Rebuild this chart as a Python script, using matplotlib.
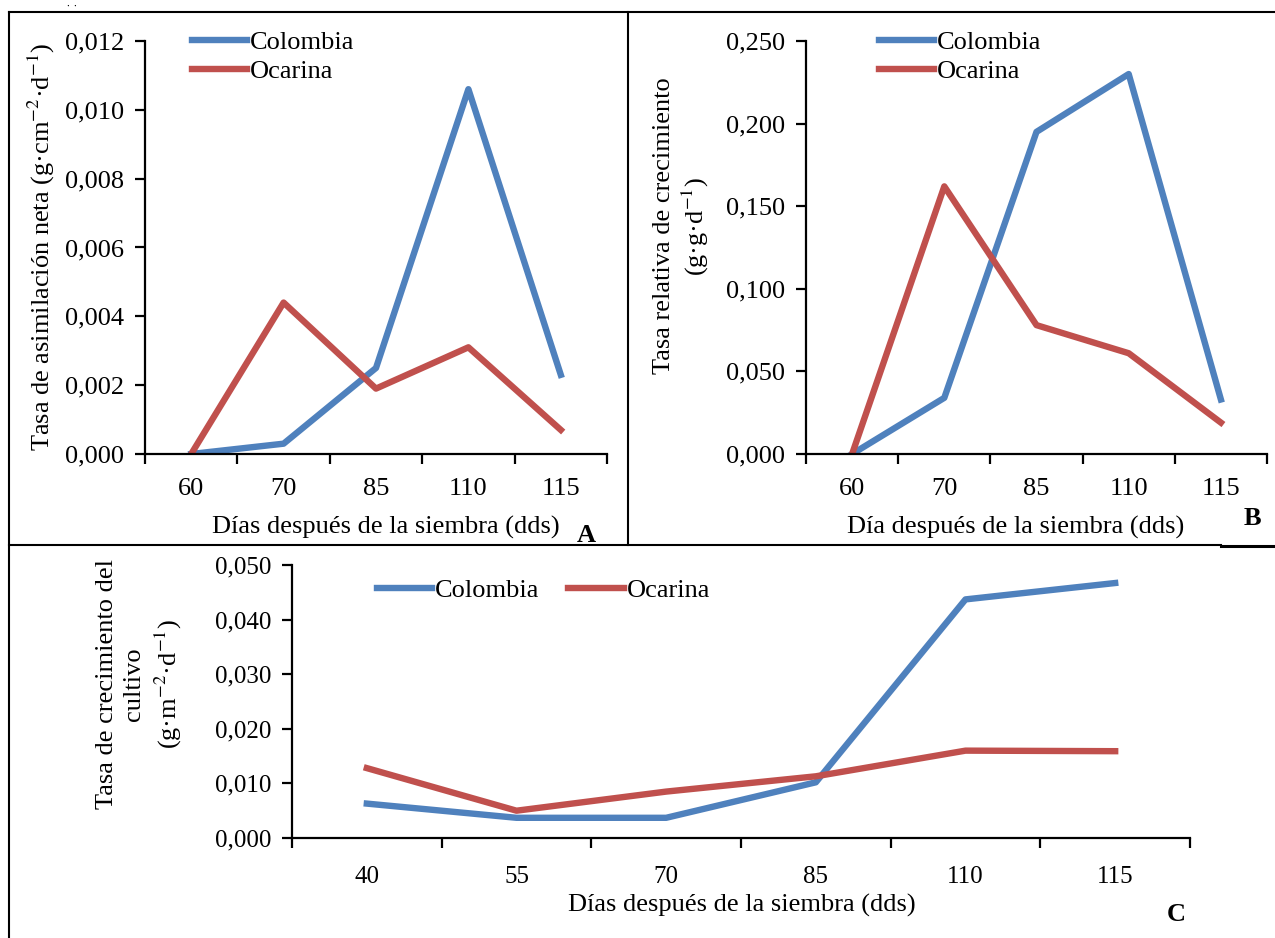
import matplotlib
matplotlib.use('Agg')
import matplotlib.pyplot as plt
from matplotlib.lines import Line2D

plt.rcParams['font.family'] = ['Liberation Serif', 'DejaVu Serif']
plt.rcParams['mathtext.fontset'] = 'stix'

# data
dias_ab = ['60', '70', '85', '110', '115']
dias_c = ['40', '55', '70', '85', '110', '115']

tan_colombia = [0.0000, 0.0003, 0.0025, 0.0106, 0.0023]
tan_ocarina = [0.0000, 0.0044, 0.0019, 0.0031, 0.0007]

trc_colombia = [0.000, 0.034, 0.195, 0.230, 0.033]
trc_ocarina = [0.000, 0.162, 0.078, 0.061, 0.019]

tcc_colombia = [0.0063, 0.0037, 0.0037, 0.0102, 0.0437, 0.0467]
tcc_ocarina = [0.0128, 0.0050, 0.0085, 0.0113, 0.0160, 0.0159]

AZUL = '#4F81BD'
ROJO = '#C0504D'
W, H = 1275, 938
FS = 19

fig = plt.figure(figsize=(W / 100, H / 100), dpi=100)


def px(x, y):
    # pixel position -> figure coords
    return x / W, 1 - y / H


def make_ax(x0, y0, x1, y1):
    return fig.add_axes([x0 / W, 1 - y1 / H, (x1 - x0) / W, (y1 - y0) / H])


def style_ax(ax, cats, ymax, ystep, fs=FS):
    n = len(cats)
    ax.set_xlim(-0.5, n - 0.5)
    ax.set_ylim(0, ymax)
    ax.spines['top'].set_visible(False)
    ax.spines['right'].set_visible(False)
    ax.spines['left'].set_linewidth(1.6)
    ax.spines['bottom'].set_linewidth(1.6)
    ax.set_xticks(range(n))
    ax.set_xticklabels(cats, fontsize=fs)
    ax.set_xticks([i - 0.5 for i in range(n + 1)], minor=True)
    ax.tick_params(axis='x', which='major', length=0, pad=17)
    ax.tick_params(axis='x', which='minor', length=7, width=1.6, direction='out')
    nt = int(round(ymax / ystep))
    yt = [i * ystep for i in range(nt + 1)]
    ax.set_yticks(yt)
    ax.set_yticklabels([('%.3f' % v).replace('.', ',') for v in yt], fontsize=fs)
    ax.tick_params(axis='y', length=7, width=1.6, direction='out', pad=8)


lw = 4.6
sup2 = r'$^{\mathrm{-2}}$'
sup1 = r'$^{\mathrm{-1}}$'

# ---- A
axA = make_ax(145, 41, 607, 454)
x = range(len(dias_ab))
axA.plot(x, tan_colombia, color=AZUL, lw=lw, label='Colombia')
axA.plot(x, tan_ocarina, color=ROJO, lw=lw, label='Ocarina')
style_ax(axA, dias_ab, 0.012, 0.002)
axA.legend(loc='upper left', bbox_to_anchor=px(192, 31), bbox_transform=fig.transFigure,
           frameon=False, fontsize=FS, handlelength=2.1, handletextpad=0.1,
           borderpad=0, borderaxespad=0, labelspacing=0.2)
fig.text(*px(41, 247), 'Tasa de asimilación neta (g·cm' + sup2 + '·d' + sup1 + ')', rotation=90,
         ha='center', va='center', fontsize=FS)
fig.text(*px(386, 527), 'Días después de la siembra (dds)', ha='center', va='center', fontsize=FS)
fig.text(*px(586, 536), 'A', ha='center', va='center', fontsize=FS, fontweight='bold')

# ---- B
axB = make_ax(806, 41, 1267, 454)
axB.plot(x, trc_colombia, color=AZUL, lw=lw, label='Colombia')
axB.plot(x, trc_ocarina, color=ROJO, lw=lw, label='Ocarina')
style_ax(axB, dias_ab, 0.250, 0.050)
axB.legend(loc='upper left', bbox_to_anchor=px(879, 31), bbox_transform=fig.transFigure,
           frameon=False, fontsize=FS, handlelength=2.1, handletextpad=0.1,
           borderpad=0, borderaxespad=0, labelspacing=0.2)
fig.text(*px(682, 226), 'Tasa relativa de crecimiento\n(g·g·d' + sup1 + ')', rotation=90,
         ha='center', va='center', fontsize=FS, linespacing=1.2, multialignment='center')
fig.text(*px(1016, 527), 'Día después de la siembra (dds)', ha='center', va='center', fontsize=FS)
fig.text(*px(1252, 518), 'B', ha='center', va='center', fontsize=FS, fontweight='bold')

# ---- C
axC = make_ax(292, 565, 1190, 838)
xc = range(len(dias_c))
axC.plot(xc, tcc_colombia, color=AZUL, lw=lw, label='Colombia')
axC.plot(xc, tcc_ocarina, color=ROJO, lw=lw, label='Ocarina')
style_ax(axC, dias_c, 0.050, 0.010, fs=18)
axC.tick_params(axis='x', which='major', pad=20)
axC.legend(loc='center left', bbox_to_anchor=px(377, 590), bbox_transform=fig.transFigure,
           frameon=False, fontsize=FS, handlelength=2.1, handletextpad=0.1,
           borderpad=0, borderaxespad=0, ncol=2, columnspacing=1.1)
fig.text(*px(140, 684), 'Tasa de crecimiento del\ncultivo\n(g·m' + sup2 + '·d' + sup1 + ')',
         rotation=90, ha='center', va='center', fontsize=FS, linespacing=1.3,
         multialignment='center')
fig.text(*px(742, 905), 'Días después de la siembra (dds)', ha='center', va='center', fontsize=FS)
fig.text(*px(1176, 914), 'C', ha='center', va='center', fontsize=FS, fontweight='bold')

# frame lines around the panels
def seg(xa, ya, xb, yb, w=1.5):
    p0, p1 = px(xa, ya), px(xb, yb)
    fig.add_artist(Line2D([p0[0], p1[0]], [p0[1], p1[1]], color='black', lw=w,
                          transform=fig.transFigure))

seg(9, 12, W, 12)
seg(9, 12, 9, H)
seg(628, 12, 628, 545)
seg(9, 545, 1221, 545)
seg(1221, 546, W, 546, w=2.2)
fig.text(*px(72, 6), '·  ·', ha='center', va='center', fontsize=6, fontweight='bold')

fig.savefig('out.png', dpi=100)
